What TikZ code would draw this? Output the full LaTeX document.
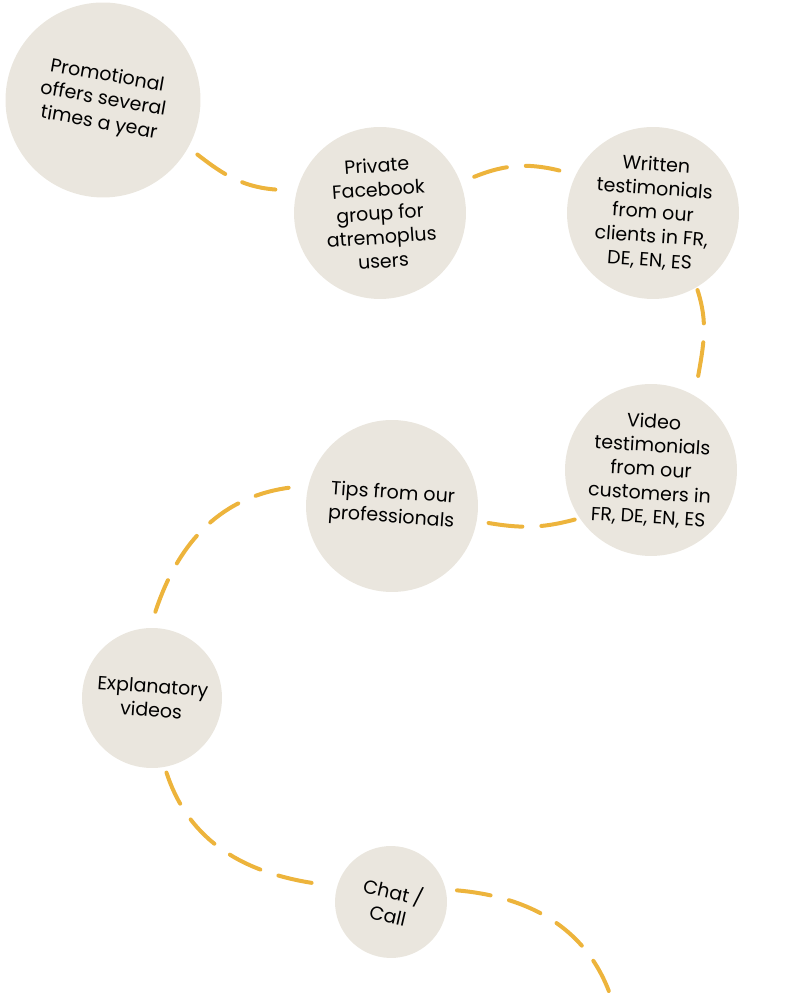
\documentclass[tikz,border=0pt]{standalone}
\usepackage{fontspec}
\setmainfont{Poppins}
\usepackage{tikz}
\usetikzlibrary{calc}
\definecolor{sand}{HTML}{EAE6DE}
\definecolor{gold}{HTML}{EDB43C}
\tikzset{
  spot/.style  ={circle,fill=sand,inner sep=0pt,align=center,
                 font=\fontsize{10.8}{13.6}\selectfont},
  big/.style   ={spot,minimum size=3.9cm},
  mid/.style   ={spot,minimum size=3.44cm},
  small/.style ={spot,minimum size=2.8cm},
  tiny/.style  ={spot,minimum size=2.24cm},
  trail/.style ={gold,line width=0.08cm,line cap=round,
                 dash pattern=on 0.68cm off 0.38cm},
}
\begin{document}
\begin{tikzpicture}[x=0.02cm,y=0.02cm]
  \useasboundingbox (0,0) rectangle (800,1000);
  \node[big,rotate=-10]  (promo) at (103,900) {Promotional\\offers several\\times a year};
  \node[mid,rotate=4]    (fb)    at (380,787) {Private\\Facebook\\group for\\atremoplus\\users};
  \node[mid,rotate=-4]   (wri)   at (653,787) {Written\\testimonials\\from our\\clients in FR,\\DE, EN, ES};
  \node[mid,rotate=-3.5] (vid)   at (651,530) {Video\\testimonials\\from our\\customers in\\FR, DE, EN, ES};
  \node[mid,rotate=-4]   (tips)  at (392,494) {Tips from our\\professionals};
  \node[small,rotate=-4] (expl)  at (152,302) {Explanatory\\videos};
  \node[tiny,rotate=-13] (chat)  at (391,98)  {Chat /\\Call};
  \coordinate (out) at (612,0);
  % dashed trail
  \draw[trail] ($(promo)+(-30:109)$) to[out=-38,in=177] ($(fb)+(167:103)$);
  \draw[trail] ($(fb)+(21:101)$)     to[out=22,in=165]  ($(wri)+(155:97)$);
  \draw[trail] ($(wri)+(-60:89)$)    to[out=-72,in=80]  ($(vid)+(63:103)$);
  \draw[trail] ($(vid)+(213:91)$)    to[out=195,in=-10] ($(tips)+(-10:94)$);
  \draw[trail] ($(tips)+(170:105)$)  to[out=188,in=73]  ($(expl)+(89:80)$);
  \draw[trail] ($(expl)+(-79:76)$)   to[out=-72,in=172] ($(chat)+(166:75)$);
  \draw[trail] ($(chat)+(10:67)$)    to[out=-5,in=108]  (out);
\end{tikzpicture}
\end{document}
